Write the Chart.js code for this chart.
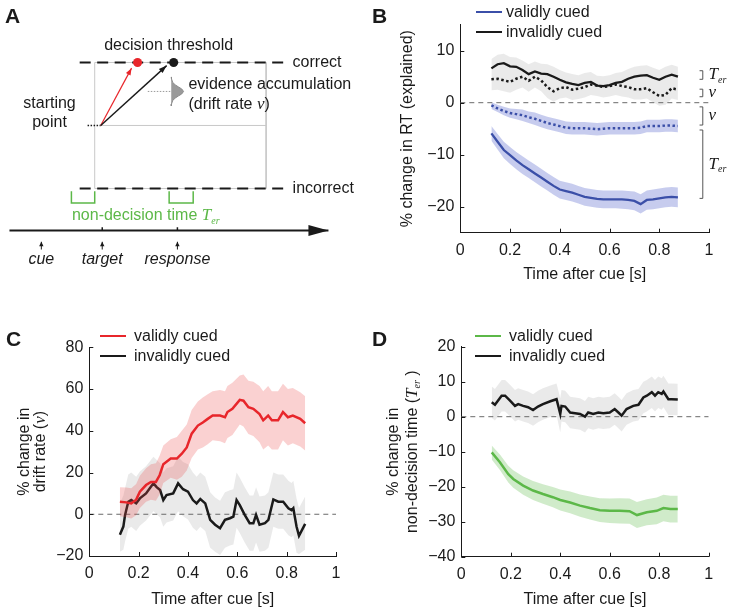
<!DOCTYPE html>
<html>
<head>
<meta charset="utf-8">
<script src="https://cdn.jsdelivr.net/npm/chart.js@4.4.1/dist/chart.umd.min.js"></script>
<style>
  body { margin: 0; background: #fff; width: 731px; height: 613px; position: relative; overflow: hidden;
         font-family: "Liberation Sans", Arial, sans-serif; color: #1a1a1a; }
  canvas { position: absolute; }
  .letter { position: absolute; font-weight: bold; font-size: 21px; line-height: 21px; }
  .leg { position: absolute; font-size: 16px; white-space: nowrap; }
  .leg .row { display: flex; align-items: center; height: 20px; }
  .leg .sw { display: inline-block; width: 26px; border-top: 2.5px solid; }
</style>
</head>
<body>
<canvas id="cA" width="380" height="290" style="left:0;top:0"></canvas>
<canvas id="cB" width="351" height="300" style="left:380px;top:0"></canvas>
<canvas id="cC" width="370" height="313" style="left:0;top:300px"></canvas>
<canvas id="cD" width="351" height="313" style="left:380px;top:300px"></canvas>

<div class="letter" style="left:5px;top:5px">A</div>
<div class="letter" style="left:372px;top:5px">B</div>
<div class="letter" style="left:6px;top:328px">C</div>
<div class="letter" style="left:372px;top:328px">D</div>

<div class="leg" id="legB" style="left:476px;top:2px"></div>
<div class="leg" id="legC" style="left:100px;top:326px"></div>
<div class="leg" id="legD" style="left:475px;top:326px"></div>

<script>
const FONT = '"Liberation Sans", Arial, sans-serif';
const SERIF = '"Liberation Serif", "Times New Roman", serif';
const INK = '#1a1a1a';
const RED = '#e8262b', BLUE = '#3b4fa8', GREEN = '#5cb848';
const GRAY_BAND = 'rgba(150,150,150,0.2)';
const RED_BAND = 'rgba(235,70,70,0.25)';
const BLUE_BAND = 'rgba(70,85,200,0.3)';
const GREEN_BAND = 'rgba(100,190,80,0.3)';

// ---------- shared axes ----------
const xTicks = [0, 0.2, 0.4, 0.6, 0.8, 1];
const zeroLineX = [0, 1];
const legendNames = ['validly cued', 'invalidly cued'];

// ---------- B: % change in RT explained ----------
const bTime = [0.125,0.15,0.175,0.2,0.225,0.25,0.275,0.3,0.325,0.35,0.375,0.4,0.425,0.45,0.475,0.5,
               0.525,0.55,0.575,0.6,0.625,0.65,0.675,0.7,0.725,0.75,0.775,0.8,0.825,0.85,0.875];
const bInvTer   = [6.6,7.4,7.6,7.0,6.9,6.3,5.5,6.0,5.6,5.5,5.0,4.4,3.9,3.6,3.4,3.8,4.0,3.3,3.2,3.4,3.8,4.0,4.6,5.0,5.2,5.3,4.8,4.4,5.0,5.4,5.0];
const bInvDrift = [4.5,4.6,4.3,4.0,4.6,5.0,4.2,5.0,4.3,3.0,2.2,2.8,3.0,2.5,2.7,3.0,3.5,3.3,3.0,3.2,3.5,3.2,3.0,2.6,2.6,2.8,2.0,1.3,1.5,2.8,2.5];
const bInvHi    = [8.4,9.2,9.4,8.8,8.7,8.1,7.4,7.9,7.5,7.4,6.9,6.3,5.8,5.5,5.3,5.7,5.9,5.2,5.1,5.3,5.7,5.9,6.5,6.9,7.1,7.2,6.7,6.3,6.9,7.3,6.9];
const bInvLo    = [2.4,2.5,2.2,1.9,2.5,2.9,2.1,2.9,2.2,0.9,0.2,0.8,1.0,0.5,0.7,1.0,1.5,1.3,1.0,1.2,1.5,1.2,1.0,0.6,0.6,0.8,0.1,-0.6,-0.4,0.8,0.5];
const bValDrift   = [-0.5,-1.1,-1.6,-2.0,-2.2,-2.4,-2.8,-3.1,-3.5,-3.9,-4.2,-4.5,-4.8,-4.9,-4.9,-4.9,-5.0,-5.1,-5.0,-4.9,-4.9,-4.9,-4.9,-4.9,-4.8,-4.5,-4.5,-4.5,-4.4,-4.4,-4.5];
const bValDriftHi = [0.1,-0.4,-0.8,-1.1,-1.2,-1.3,-1.7,-1.9,-2.3,-2.7,-3.0,-3.3,-3.6,-3.7,-3.7,-3.7,-3.8,-3.9,-3.8,-3.7,-3.7,-3.7,-3.7,-3.7,-3.6,-3.3,-3.3,-3.3,-3.2,-3.2,-3.3];
const bValDriftLo = [-1.2,-1.8,-2.4,-2.9,-3.2,-3.5,-3.9,-4.3,-4.7,-5.1,-5.4,-5.7,-6.0,-6.1,-6.1,-6.1,-6.2,-6.3,-6.2,-6.1,-6.1,-6.1,-6.1,-6.1,-6.0,-5.7,-5.7,-5.7,-5.6,-5.6,-5.7];
const bValTer   = [-5.9,-7.5,-9.1,-10.1,-11.1,-12.0,-12.8,-13.6,-14.4,-15.2,-16.0,-16.7,-17.0,-17.3,-17.7,-18.1,-18.3,-18.5,-18.6,-18.6,-18.6,-18.6,-18.7,-18.9,-19.5,-18.7,-18.6,-18.4,-18.2,-18.1,-18.2];
const bValTerHi = [-4.5,-6.0,-7.5,-8.5,-9.5,-10.3,-11.1,-11.9,-12.7,-13.5,-14.3,-15.0,-15.3,-15.6,-16.0,-16.4,-16.6,-16.8,-16.9,-16.9,-16.9,-16.9,-17.0,-17.1,-17.6,-16.9,-16.7,-16.5,-16.3,-16.2,-16.3];
const bValTerLo = [-7.3,-9.0,-10.7,-11.8,-12.8,-13.7,-14.5,-15.3,-16.1,-16.9,-17.7,-18.4,-18.7,-19.0,-19.4,-19.8,-20.0,-20.2,-20.3,-20.3,-20.3,-20.4,-20.5,-20.7,-21.3,-20.6,-20.5,-20.3,-20.1,-20.0,-20.1];
const bYTicks = [-20, -10, 0, 10];
const bBracketHi = [6.15, 2.6, -0.8, -5.25];
const bBracketLo = [4.5, 1.15, -4.3, -18.4];
const bBracketSym = ['Ter', 'v', 'v', 'Ter'];

// ---------- C: drift rate ----------
const cValTime = [0.124,0.15,0.17,0.19,0.205,0.23,0.25,0.27,0.285,0.3,0.33,0.355,0.375,0.395,0.415,0.44,0.46,0.48,0.5,
                  0.53,0.55,0.56,0.58,0.61,0.625,0.645,0.665,0.69,0.705,0.725,0.74,0.765,0.785,0.805,0.825,0.855,0.875];
const cVal   = [6,5.7,5.2,7,10.8,14,15.5,15.5,18.7,24,26.7,26.7,29,32,38.6,42.5,44,45.7,47.3,47.3,46.5,49,50.5,54.8,54.4,51.3,50.5,48,45,47.3,45,45,49,46.5,47.3,45.7,43.6];
const cValHi = [13,12.8,12.5,14.5,18.5,22,24,24.5,28,33,36,37,40,43,50,54,56,57.5,59,59.5,59,61.5,63,66.5,67,64,63.5,61.5,59,61.5,59,59,62.5,60,60.5,58.5,56.5];
const cValLo = [-1,-1.4,-2,-0.5,3,6,7,6.5,9.5,15,17.5,16.5,18,21,27,31,32,33.5,35.5,35,34,36.5,38,43,42,38.5,37.5,34.5,31,33,31,31,35.5,33,34,32.5,30.5];
const cInvTime = [0.124,0.138,0.145,0.158,0.17,0.19,0.205,0.23,0.26,0.273,0.287,0.3,0.313,0.34,0.36,0.38,0.4,0.42,0.435,0.45,0.47,0.49,0.51,
                  0.53,0.55,0.57,0.584,0.597,0.61,0.63,0.65,0.665,0.676,0.69,0.712,0.726,0.746,0.766,0.786,0.807,0.82,0.827,0.84,0.85,0.875];
const cInv   = [-9.8,-5.9,-0.3,6,6.8,5.2,7.6,10,14.8,13,11.6,6.8,9.2,10,14.8,12,10.8,6.8,5.2,7.3,5.2,-2.7,-5,
                -6.7,-2.7,-1.9,-1.1,6.8,4.4,-0.3,-4.3,-4.3,-0.3,-5,-4.3,-2.7,7.1,6,6,2.9,2,2.9,-5.9,-10.3,-4.6];
const cInvHi = [5,9,12.5,19,20,18,20.5,23,27.5,26,24.5,20,22,23,27.5,25,24,20,18,20,18,10.5,8,
                6.5,10.5,11.5,12,20,17.5,13,9,9,13,8.5,9,10.5,20,19,19,16,15,16,7.5,3,8.5];
const cInvLo = [-18,-17,-13,-7,-6,-8,-5.5,-3,1.5,0,-1.5,-6,-4,-3,1.5,-1,-2.5,-6.5,-8,-6,-8,-16,-18,
                -19.5,-16,-15,-14.5,-6.5,-9,-13.5,-17.5,-17.5,-13.5,-18,-17.5,-16,-6,-7,-7,-10,-11,-10,-18.5,-19,-17];
const cYTicks = [-20, 0, 20, 40, 60, 80];

// ---------- D: non-decision time ----------
const dInvTime = [0.123,0.136,0.163,0.177,0.197,0.217,0.23,0.25,0.27,0.29,0.31,0.33,0.36,0.385,0.4,0.405,0.42,0.44,0.46,0.48,0.5,
                  0.513,0.533,0.554,0.574,0.6,0.62,0.635,0.648,0.668,0.695,0.716,0.736,0.75,0.77,0.783,0.796,0.81,0.817,0.837,0.85,0.875];
const dInv   = [4.1,3.4,6,6,4.6,3.1,3.6,3.1,2.7,1.9,2.9,3.6,4.4,5,0.8,3.1,2.9,1.2,1,0.8,0,
                1.2,0.8,1.2,1,1.2,2.2,1.2,0.3,2.2,3.1,3.4,5.5,6,7,6,7,6.5,7.2,5,5,4.9];
const dInvHi = [8.6,7.9,10.5,10.5,9.1,7.6,8.1,7.6,7.2,6.4,7.4,8.1,8.9,9.5,5.3,7.6,7.4,5.7,5.5,5.3,4.5,
                5.7,5.3,5.7,5.5,5.7,6.7,5.7,4.8,6.7,7.6,7.9,10,10.5,11.5,10.5,11.5,11,11.7,9.5,9.5,9.4];
const dInvLo = [-0.4,-1.1,1.5,1.5,0.1,-1.4,-0.9,-1.4,-1.8,-2.6,-1.6,-0.9,-0.1,0.5,-4.5,-1.4,-1.6,-3.3,-3.5,-3.7,-4.5,
                -3.3,-3.7,-3.3,-3.5,-3.3,-2.3,-3.3,-4.2,-2.3,-1.4,-1.1,1,1.5,2.5,1.5,2.5,2,2.7,0.5,0.5,0.4];
const dValTime = [0.123,0.156,0.19,0.21,0.25,0.29,0.33,0.37,0.4,0.44,0.48,0.52,0.56,0.6,0.64,0.68,0.71,0.75,0.79,0.817,0.845,0.875];
const dVal   = [-10.2,-13,-16.4,-17.8,-19.7,-21.1,-22.1,-23,-23.8,-24.5,-25.4,-26.1,-26.7,-26.9,-26.9,-27,-28.1,-27.3,-26.9,-26.1,-26.4,-26.4];
const dValHi = [-8.2,-10.8,-14.0,-15.3,-17.1,-18.4,-19.3,-20.1,-20.8,-21.4,-22.2,-22.8,-23.3,-23.4,-23.3,-23.4,-24.4,-23.6,-23.1,-22.3,-22.6,-22.6];
const dValLo = [-12.2,-15.2,-18.8,-20.3,-22.3,-23.8,-24.9,-25.9,-26.8,-27.6,-28.6,-29.4,-30.1,-30.4,-30.5,-30.6,-31.8,-31.0,-30.7,-29.9,-30.2,-30.2];
const dYTicks = [-40, -30, -20, -10, 0, 10, 20];

// ---------- A: schematic (time units: target = 0, response = 1; evidence: correct = 1, incorrect = -1) ----------
const aBoundX = [-0.30, 2.43];
const aBoundY = [1, -1];
const aFrameX = [-0.10, 2.18];
const aStartX = -0.02;
const aStartDotsX = [-0.195, -0.02];
const aTipX = [0.39, 0.857], aTipY = [0.91, 0.95];
const aHitX = [0.47, 0.95];
const aDistX = [0.918, 0.921, 0.939, 0.977, 1.016, 1.057, 1.082, 1.057, 1.016, 0.977, 0.939, 0.921, 0.918];
const aDistY = [0.77, 0.74, 0.68, 0.64, 0.61, 0.58, 0.54, 0.50, 0.47, 0.44, 0.40, 0.34, 0.31];
const aDriftCueX = [0.606, 0.91];
const aTimelineX = [-1.234, 3.009];
const aTimelineY = -1.666;
const aEventX = [-0.81, 0, 1];
const aEventName = ['cue', 'target', 'response'];
const aEventArrowY = [-1.969, -1.846];
const aTerX = [[-0.41, -0.10], [0.89, 1.21]];
const aTerY = [-1.046, -1.231];

// ---------- helpers ----------
const pts = (xs, ys) => xs.map((x, i) => ({x, y: Array.isArray(ys) ? ys[i] : ys}));
const sans = s => `${s}px ${FONT}`;
const sansIt = s => `italic ${s}px ${FONT}`;
const serifIt = s => `italic ${s}px ${SERIF}`;
const TER = (s, c) => [['T', serifIt(s), c], ['er', serifIt(Math.round(s * 0.6)), c, s * 0.3]];
const NU = (s, c) => [['ν', serifIt(s), c]];

function line(data, color, width, extra) {
  return Object.assign({data, borderColor: color, backgroundColor: color, borderWidth: width,
    pointRadius: 0, fill: false, tension: 0, order: 1}, extra || {});
}
function band(hi, lo, xs, color) {
  return [
    line(pts(xs, hi), 'transparent', 0, {fill: '+1', backgroundColor: color, order: 10}),
    line(pts(xs, lo), 'transparent', 0, {order: 10})
  ];
}
const zeroLine = () => line(pts(zeroLineX, 0), '#6a6a6a', 1, {borderDash: [5, 4], order: 5});

function drawRich(ctx, parts, px, py, align) {
  let w = 0;
  parts.forEach(p => { ctx.font = p[1]; w += ctx.measureText(p[0]).width; });
  let x = align === 'center' ? px - w / 2 : align === 'right' ? px - w : px;
  ctx.textAlign = 'left';
  ctx.textBaseline = 'middle';
  parts.forEach(p => {
    ctx.font = p[1];
    ctx.fillStyle = p[2] || INK;
    ctx.fillText(p[0], x, py + (p[3] || 0));
    x += ctx.measureText(p[0]).width;
  });
}

// text placed in data coordinates
const notes = {
  id: 'notes',
  afterDraw(chart, args, opts) {
    const {ctx, scales} = chart;
    (opts.items || []).forEach(it => {
      const px = scales.x.getPixelForValue(it.x), py = scales.y.getPixelForValue(it.y);
      ctx.save();
      ctx.translate(px, py);
      if (it.rot) ctx.rotate(it.rot);
      drawRich(ctx, it.parts, 0, 0, it.align || 'left');
      ctx.restore();
    });
  }
};

// matlab style ticks pointing into the plot
const inwardTicks = {
  id: 'inwardTicks',
  afterDraw(chart) {
    const {ctx, scales} = chart;
    if (!scales.x.options.display) return;
    ctx.save();
    ctx.strokeStyle = INK;
    ctx.lineWidth = 1;
    ctx.beginPath();
    scales.x.ticks.forEach(t => {
      const px = Math.round(scales.x.getPixelForValue(t.value)) + 0.5;
      ctx.moveTo(px, scales.x.top); ctx.lineTo(px, scales.x.top - 4);
    });
    scales.y.ticks.forEach(t => {
      const py = Math.round(scales.y.getPixelForValue(t.value)) + 0.5;
      ctx.moveTo(scales.y.right, py); ctx.lineTo(scales.y.right + 4, py);
    });
    ctx.stroke();
    ctx.restore();
  }
};

const arrowHeads = {
  id: 'arrowHeads',
  afterDatasetsDraw(chart) {
    const ctx = chart.ctx;
    chart.data.datasets.forEach((ds, i) => {
      if (!ds.arrow) return;
      const el = chart.getDatasetMeta(i).data;
      const a = el[el.length - 2], b = el[el.length - 1];
      ctx.save();
      ctx.translate(b.x, b.y);
      ctx.rotate(Math.atan2(b.y - a.y, b.x - a.x));
      ctx.beginPath();
      ctx.moveTo(0, 0);
      ctx.lineTo(-ds.arrow.len, ds.arrow.w);
      ctx.lineTo(-ds.arrow.len, -ds.arrow.w);
      ctx.closePath();
      ctx.fillStyle = ds.borderColor;
      ctx.fill();
      ctx.restore();
    });
  }
};

const brackets = {
  id: 'brackets',
  afterDraw(chart, args, opts) {
    if (!opts.lo) return;
    const {ctx, scales} = chart;
    const xv = scales.x.getPixelForValue(opts.xLine), xe = scales.x.getPixelForValue(opts.xEnd);
    const xl = scales.x.getPixelForValue(opts.xLabel);
    ctx.save();
    ctx.strokeStyle = '#555';
    ctx.lineWidth = 1;
    opts.lo.forEach((lo, i) => {
      const y1 = scales.y.getPixelForValue(opts.hi[i]), y2 = scales.y.getPixelForValue(lo);
      ctx.beginPath();
      ctx.moveTo(xe, y1); ctx.lineTo(xv, y1); ctx.lineTo(xv, y2); ctx.lineTo(xe, y2);
      ctx.stroke();
      const parts = opts.sym[i] === 'Ter' ? TER(17, INK) : NU(17, INK);
      drawRich(ctx, parts, xl, (y1 + y2) / 2, 'left');
    });
    ctx.restore();
  }
};

const fmtX = v => (v === 0 || v === 1) ? String(v) : v.toFixed(1);
const fmtY = v => String(v).replace('-', '\u2212');

function plotPanel(id, cfg) {
  return new Chart(document.getElementById(id), {
    type: 'line',
    data: {datasets: cfg.datasets},
    options: {
      responsive: false, animation: false, events: [],
      layout: {padding: cfg.pad},
      plugins: {
        legend: {display: false}, tooltip: {enabled: false},
        notes: {items: cfg.notes || []},
        brackets: cfg.brackets || {}
      },
      scales: {
        x: {
          type: 'linear', min: 0, max: 1,
          afterBuildTicks: s => { s.ticks = xTicks.map(v => ({value: v})); },
          afterFit: s => { s.height = cfg.xH; },
          grid: {display: false, drawTicks: false},
          border: {display: true, color: INK, width: 1},
          ticks: {padding: 8, color: INK, font: {family: FONT, size: 16}, maxRotation: 0, autoSkip: false, callback: fmtX},
          title: {display: true, text: 'Time after cue [s]', color: INK, font: {family: FONT, size: 16},
                  padding: {top: 0, bottom: cfg.xTitlePad}}
        },
        y: {
          type: 'linear', min: cfg.yMin, max: cfg.yMax,
          afterBuildTicks: s => { s.ticks = cfg.yTicks.map(v => ({value: v})); },
          afterFit: s => { s.width = cfg.yW; },
          grid: {display: false, drawTicks: false},
          border: {display: true, color: INK, width: 1},
          ticks: {padding: 6, color: INK, font: {family: FONT, size: 16}, autoSkip: false, callback: fmtY},
          title: cfg.yTitle || {display: false}
        }
      }
    },
    plugins: [inwardTicks, notes, brackets]
  });
}

// ---------- panel A ----------
const frame = [
  {x: aFrameX[0], y: aBoundY[0]}, {x: aFrameX[1], y: aBoundY[0]},
  {x: aFrameX[1], y: aBoundY[1]}, {x: aFrameX[0], y: aBoundY[1]}, {x: aFrameX[0], y: aBoundY[0]}
];
const aDatasets = [
  line(frame, '#c8c8c8', 1),
  line(pts([aStartX, aFrameX[1]], 0), '#c8c8c8', 1),
  line(pts(aBoundX, aBoundY[0]), INK, 2, {borderDash: [11, 6.5]}),
  line(pts(aBoundX, aBoundY[1]), INK, 2, {borderDash: [11, 6.5]}),
  line(pts(aStartDotsX, 0), INK, 1.5, {borderDash: [1.5, 1.5]}),
  line(pts(aDriftCueX, aDistY[6]), '#999', 1, {borderDash: [1.5, 1.5]}),
  line(pts(aDistX, aDistY), '#8a8a8a', 1, {fill: 'shape', backgroundColor: '#9a9a9a'}),
  line([{x: aStartX, y: 0}, {x: aTipX[0], y: aTipY[0]}], RED, 1.2, {arrow: {len: 7, w: 2.6}}),
  line([{x: aStartX, y: 0}, {x: aTipX[1], y: aTipY[1]}], INK, 1.4, {arrow: {len: 8, w: 2.8}}),
  line(pts([aHitX[0]], aBoundY[0]), RED, 0, {showLine: false, pointRadius: 4.5, pointBackgroundColor: RED, pointBorderWidth: 0}),
  line(pts([aHitX[1]], aBoundY[0]), INK, 0, {showLine: false, pointRadius: 4.5, pointBackgroundColor: INK, pointBorderWidth: 0}),
  line(pts(aTimelineX, aTimelineY), INK, 2, {arrow: {len: 20, w: 5.5}})
];
aTerX.forEach(([x0, x1]) => {
  aDatasets.push(line([{x: x0, y: aTerY[0]}, {x: x0, y: aTerY[1]}, {x: x1, y: aTerY[1]}, {x: x1, y: aTerY[0]}], GREEN, 1.5));
});
aEventX.forEach(x => {
  aDatasets.push(line(pts([x, x], aEventArrowY), INK, 1, {arrow: {len: 4.5, w: 2.2}}));
  if (x !== aEventX[0]) aDatasets.push(line(pts([x, x], [aTimelineY, aTimelineY + 0.05]), INK, 1.5));
});
// later entries are drawn on top
aDatasets.forEach((d, i) => { d.order = -i; });

const aNotes = [
  {x: 0.883, y: 1.26, align: 'center', parts: [['decision threshold', sans(16)]]},
  {x: 2.532, y: aBoundY[0], parts: [['correct', sans(16)]]},
  {x: 2.532, y: aBoundY[1], parts: [['incorrect', sans(16)]]},
  {x: 1.147, y: 0.646, parts: [['evidence accumulation', sans(16)]]},
  {x: 1.147, y: 0.338, parts: [['(drift rate ', sans(16)], ...NU(17), [')', sans(16)]]},
  {x: -0.701, y: 0.354, align: 'center', parts: [['starting', sans(16)]]},
  {x: -0.701, y: 0.046, align: 'center', parts: [['point', sans(16)]]},
  {x: -0.403, y: -1.435, parts: [['non-decision time ', sans(16), GREEN], ...TER(17, GREEN)]}
];
aEventX.forEach((x, i) => aNotes.push({x, y: -2.128, align: 'center', parts: [[aEventName[i], sansIt(16)]]}));

new Chart(document.getElementById('cA'), {
  type: 'line',
  data: {datasets: aDatasets},
  options: {
    responsive: false, animation: false, events: [],
    layout: {padding: 0},
    plugins: {legend: {display: false}, tooltip: {enabled: false}, notes: {items: aNotes}},
    scales: {
      x: {type: 'linear', display: false, min: -1.3, max: 3.635},
      y: {type: 'linear', display: false, min: -2.54, max: 1.92}
    }
  },
  plugins: [arrowHeads, notes]
});

// ---------- panel B ----------
plotPanel('cB', {
  pad: {left: 0, right: 22, top: 24.7, bottom: 0}, xH: 67.3, yW: 80.3, xTitlePad: 15.4,
  yMin: -25, yMax: 15, yTicks: bYTicks,
  yTitle: {display: true, text: '% change in RT (explained)', color: INK, font: {family: FONT, size: 16}, padding: {top: 18.4, bottom: 0}},
  brackets: {lo: bBracketLo, hi: bBracketHi, sym: bBracketSym, xLine: 0.975, xEnd: 0.962, xLabel: 0.998},
  datasets: [
    ...band(bInvHi, bInvLo, bTime, GRAY_BAND),
    ...band(bValDriftHi, bValDriftLo, bTime, BLUE_BAND),
    ...band(bValTerHi, bValTerLo, bTime, BLUE_BAND),
    zeroLine(),
    line(pts(bTime, bInvDrift), INK, 2.5, {borderDash: [2.5, 2.5]}),
    line(pts(bTime, bInvTer), INK, 2.3),
    line(pts(bTime, bValDrift), BLUE, 2.5, {borderDash: [2.5, 2.5]}),
    line(pts(bTime, bValTer), BLUE, 2.3)
  ]
});

// ---------- panel C ----------
plotPanel('cC', {
  pad: {left: 0, right: 34, top: 47.3, bottom: 0}, xH: 57, yW: 89.3, xTitlePad: 3.4,
  yMin: -20, yMax: 80, yTicks: cYTicks,
  notes: [
    {x: -0.261, y: 30, rot: -Math.PI / 2, align: 'center', parts: [['% change in', sans(16)]]},
    {x: -0.199, y: 30, rot: -Math.PI / 2, align: 'center', parts: [['drift rate (', sans(16)], ...NU(17), [')', sans(16)]]}
  ],
  datasets: [
    ...band(cInvHi, cInvLo, cInvTime, GRAY_BAND),
    zeroLine(),
    line(pts(cInvTime, cInv), INK, 2.5, {order: 3}),
    ...band(cValHi, cValLo, cValTime, RED_BAND).map(d => Object.assign(d, {order: 2})),
    line(pts(cValTime, cVal), RED, 2.5)
  ]
});

// ---------- panel D ----------
plotPanel('cD', {
  pad: {left: 0, right: 22.3, top: 46.7, bottom: 0}, xH: 56.3, yW: 81.3, xTitlePad: 3.4,
  yMin: -40, yMax: 20, yTicks: dYTicks,
  notes: [
    {x: -0.274, y: -10, rot: -Math.PI / 2, align: 'center', parts: [['% change in', sans(16)]]},
    {x: -0.197, y: -10, rot: -Math.PI / 2, align: 'center', parts: [['non-decision time (', sans(16)], ...TER(17), [' )', sans(16)]]}
  ],
  datasets: [
    ...band(dInvHi, dInvLo, dInvTime, GRAY_BAND),
    ...band(dValHi, dValLo, dValTime, GREEN_BAND),
    zeroLine(),
    line(pts(dInvTime, dInv), INK, 2.5),
    line(pts(dValTime, dVal), GREEN, 2.5)
  ]
});

// ---------- legends ----------
function legend(id, colors) {
  const gap = id === 'legB' ? 4 : 8;
  document.getElementById(id).innerHTML = legendNames.map((n, i) =>
    `<div class="row"><span class="sw" style="border-color:${colors[i]};margin-right:${gap}px"></span>${n}</div>`).join('');
}
legend('legB', [BLUE, INK]);
legend('legC', [RED, INK]);
legend('legD', [GREEN, INK]);
</script>
</body>
</html>
